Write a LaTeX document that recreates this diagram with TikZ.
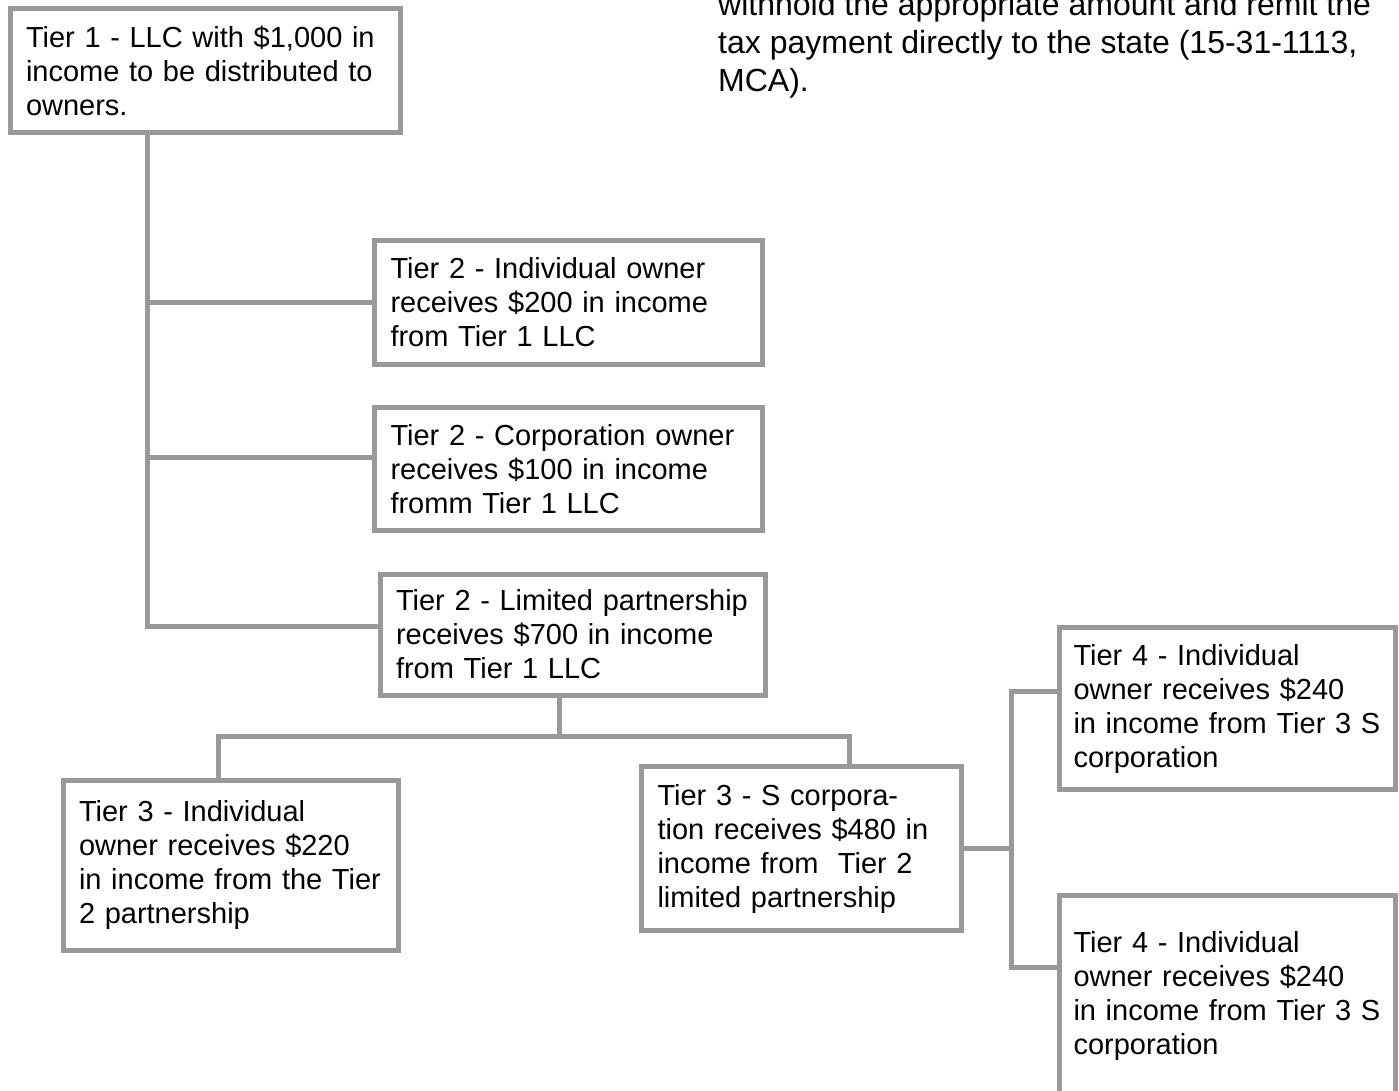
\documentclass[tikz,border=0pt]{standalone}
\usepackage{fontspec}
\setmainfont{Liberation Sans}
\definecolor{boxgray}{HTML}{999999}
\tikzset{
  tierbox/.style={draw=boxgray, line width=5pt, fill=white, anchor=north west, outer sep=0pt,
    inner xsep=16pt, inner ysep=4pt, align=left, font=\fontsize{29}{34}\selectfont},
  link/.style={draw=boxgray, line width=5pt}
}
\begin{document}
\begin{tikzpicture}[x=1pt,y=-1pt]
\useasboundingbox (0,0) rectangle (1399,1091);
\clip (0,0) rectangle (1399,1091);

% note at the top, cut by the page edge
\node[anchor=north west, inner sep=0pt, align=left, font=\fontsize{32}{38}\selectfont] (note) at (718,-8)
  {withhold the appropriate amount and remit the\\tax payment directly to the state (15-31-1113,\\MCA).};

\node[tierbox, text width=358pt, minimum height=124pt] (t1) at (10,9)
  {Tier 1 - LLC with \$1,000 in\\income to be distributed to\\owners.};
\node[tierbox, text width=356pt, minimum height=124pt] (t2a) at (374.5,240.5)
  {Tier 2 - Individual owner\\receives \$200 in income\\from Tier 1 LLC};
\node[tierbox, text width=356pt, minimum height=123pt] (t2b) at (374.5,407.5)
  {Tier 2 - Corporation owner\\receives \$100 in income\\fromm Tier 1 LLC};
\node[tierbox, text width=353pt, minimum height=121pt] (t2c) at (380,574)
  {Tier 2 - Limited partnership\\receives \$700 in income\\from Tier 1 LLC};
\node[tierbox, text width=303pt, minimum height=170pt] (t3a) at (63,780)
  {Tier 3 - Individual\\owner receives \$220\\in income from the Tier\\2 partnership};
\node[tierbox, text width=288pt, minimum height=164pt] (t3b) at (641.5,766.5)
  {Tier 3 - S corpora-\\tion receives \$480 in\\income from \ Tier 2\\limited partnership};
\node[tierbox, inner xsep=14pt, text width=307.5pt, minimum height=162pt] (t4a) at (1059.5,627.5)
  {Tier 4 - Individual\\owner receives \$240\\in income from Tier 3 S\\corporation};
\node[tierbox, inner xsep=14pt, text width=307.5pt, minimum height=200pt] (t4b) at (1059.5,895.5)
  {Tier 4 - Individual\\owner receives \$240\\in income from Tier 3 S\\corporation};

% tier 1 to tier 2
\coordinate (trunk) at ([xshift=137.5pt]t1.south west);
\draw[link] (trunk) |- ([yshift=8pt]t2c.west);
\foreach \n/\dy in {t2a/0,t2b/11.5}{
  \coordinate (j\n) at ([yshift=\dy pt]\n.west);
  \draw[link] (trunk |- j\n) -- (j\n);
}

% tier 2 to tier 3
\coordinate (c2) at ([xshift=-13pt]t2c.south);
\coordinate (bus) at ([yshift=-41pt]c2);
\draw[link] (c2) -- (bus);
\draw[link] ([xshift=-12pt]t3a.north) |- (bus) -| ([xshift=48pt]t3b.north);

% tier 3 to tier 4
\coordinate (fork) at ([xshift=50pt]t3b.east);
\draw[link] (t3b.east) -- (fork);
\draw[link] ([yshift=17.5pt]t4a.west) -| (fork) |- ([yshift=28pt]t4b.west);
\end{tikzpicture}
\end{document}
